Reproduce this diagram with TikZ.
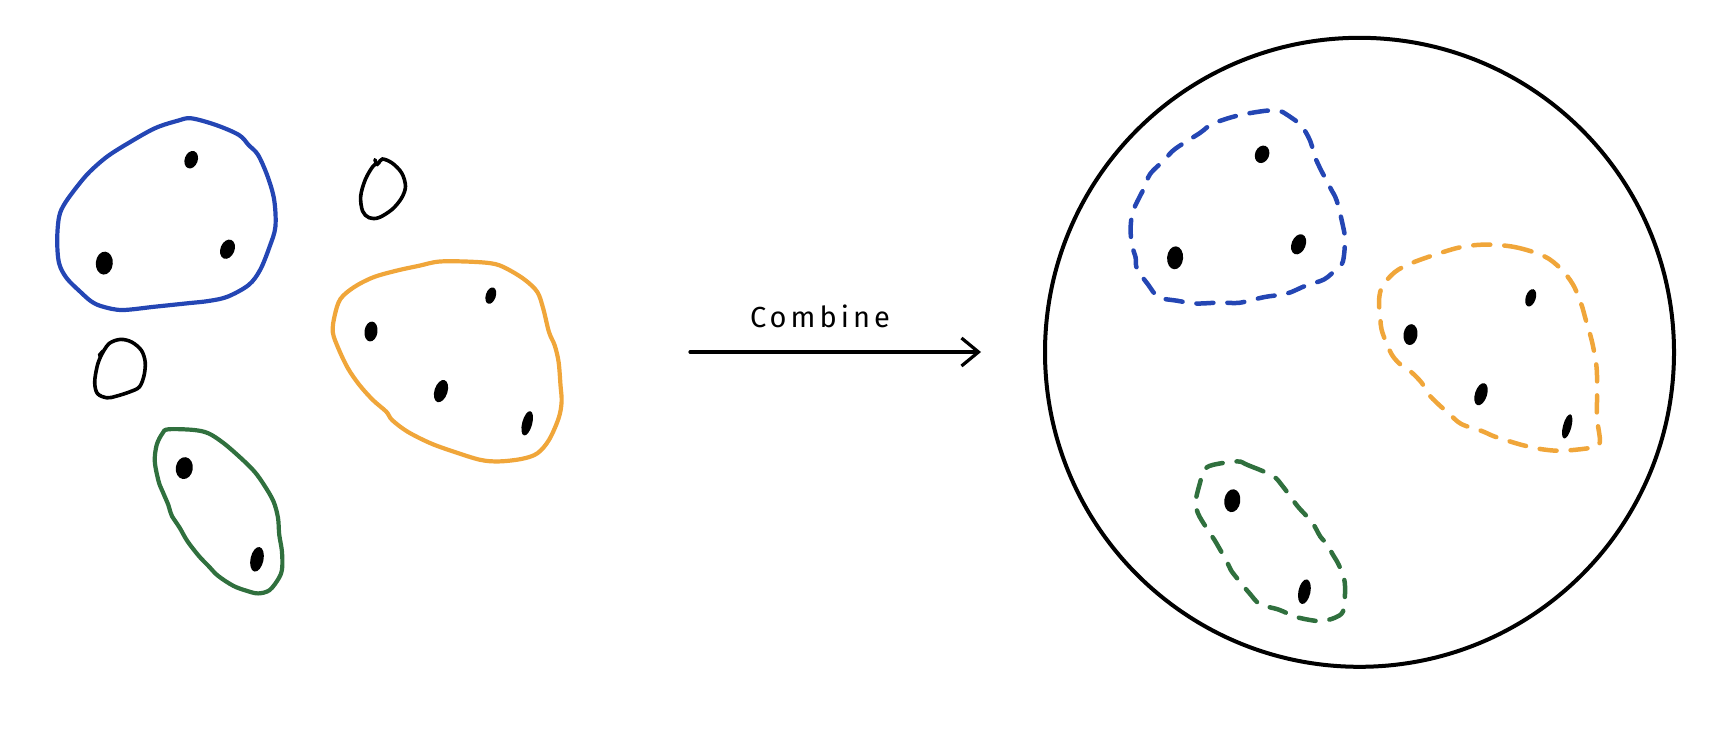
\documentclass[tikz,border=0pt]{standalone}
\usepackage{fontspec}
\newfontfamily\handfont[LetterSpace=14]{Fira Sans}
\usetikzlibrary{arrows.meta}
\definecolor{cblue}{RGB}{36,70,180}
\definecolor{corange}{RGB}{240,166,58}
\definecolor{cgreen}{RGB}{48,112,62}
\begin{document}
\begin{tikzpicture}[x=1pt,y=-1pt,
  blob/.style={line width=4.2pt,line join=round,line cap=round},
  dblob/.style={line width=4.5pt,line cap=round,dash pattern=on 17pt off 14pt},
  loopline/.style={line width=3.6pt,black,line cap=round},
  arr/.style={line width=3.2pt,line cap=round,-{Straight Barb[length=17pt,width=28pt,line width=3.2pt]}},
  pt/.style={fill=black}]
\useasboundingbox (0,0) rectangle (1710,740);

% ---------- left: blue group ----------
\draw[blob,cblue] plot[smooth cycle,tension=0.55] coordinates {
 (191.2,118.3) (216,125) (239,135) (248.6,145) (258.1,155) (267.7,176.7)
 (274.2,200) (275.4,226.7) (269.6,246.7) (260.1,270) (248.6,285) (227.5,296.7)
 (208.4,301) (187.3,303.3) (154.8,306.7) (122.3,310) (103.1,306.7) (91.7,301.7)
 (80.2,291.7) (66.8,278.3) (59.1,263.3) (57.2,240) (59.1,216.7) (64.9,203.3)
 (78.3,185) (89.8,171.7) (107,156.7) (128,143.3) (154.8,128.3) (177.8,120.7)};
\fill[pt,rotate around={-20:(191.2,159.7)}] (191.2,159.7) ellipse (6.5 and 9);
\fill[pt,rotate around={-5:(104.3,263.1)}] (104.3,263.1) ellipse (8.5 and 11.5);
\fill[pt,rotate around={-22:(227.5,249.2)}] (227.5,249.2) ellipse (7 and 10);

% ---------- left: orange group ----------
\draw[blob,corange] plot[smooth cycle,tension=0.55] coordinates {
 (439.9,261.5) (472.5,261.8) (495.4,264.1) (510.7,270.8) (526,280.7) (537.5,292.3)
 (543.3,308.9) (549,332.1) (554.7,345.4) (558.6,362) (560.5,385.2) (561.6,401.8)
 (558.6,418.3) (549,439.9) (537.5,453.2) (522.2,458.8) (499.2,461.4) (480.1,459.8)
 (453.3,451.5) (430.4,443.2) (407.4,431.6) (392.1,420) (386.3,411.7) (373,400.1)
 (359.6,385.2) (348.1,368.6) (338.5,348.7) (332.8,332.1) (334.7,315.5) (340.4,299)
 (353.8,287.3) (373,277.4) (395.9,270.8) (418.9,265.8)};
\fill[pt,rotate around={-18:(490.8,295.6)}] (490.8,295.6) ellipse (5 and 8.5);
\fill[pt,rotate around={-8:(371,331.5)}] (371,331.5) ellipse (6.5 and 10);
\fill[pt,rotate around={-18:(441,391.1)}] (441,391.1) ellipse (6.5 and 11.5);
\fill[pt,rotate around={-15:(527.2,423.3)}] (527.2,423.3) ellipse (5 and 12.5);

% ---------- left: green group ----------
\draw[blob,cgreen] plot[smooth cycle,tension=0.55] coordinates {
 (168.2,429.3) (193.1,429.9) (208.4,433.3) (223.7,443.2) (240.9,458.1) (254.3,471.4)
 (263.9,484.7) (273.4,501.2) (278,517.8) (279.2,534.4) (281.9,551) (282.2,567.6)
 (279.2,577.5) (269.6,590.1) (258.1,593.4) (246.7,590.8) (233.3,585.8) (218,575.8)
 (208.4,565.9) (198.8,555.9) (187.3,541) (179.7,527.8) (172,516.2) (170.1,511.2)
 (168.2,504.6) (162.5,491.3) (158.6,481.3) (154.8,461.4) (156.7,444.9) (162.5,433.3)};
\fill[pt,rotate around={-8:(184.3,468.1)}] (184.3,468.1) ellipse (8.5 and 11);
\fill[pt,rotate around={-12:(257,559.3)}] (257,559.3) ellipse (6.5 and 12.5);

% ---------- left: single small loops ----------
\draw[loopline] plot[smooth,tension=0.55] coordinates {
 (376.8,164.7) (378.7,163) (382.5,159) (392.1,163) (401.7,173) (405.5,186.2)
 (401.7,197.8) (392.1,209.4) (378.7,217.7) (369.1,217.7) (362.6,211.1)
 (360.7,196.2) (365.3,179.6) (373,166.3) (378.7,163)};
\draw[loopline] (374.9,159.7) -- (376.8,164.7);
\draw[loopline] plot[smooth,tension=0.55] coordinates {
 (101.2,355.3) (108.9,343.7) (120.4,339.4) (131.8,342.1) (141.4,350.4) (145.2,362)
 (144.1,375.2) (139.5,386.8) (129.9,391.8) (116.5,396.1) (107,397.8) (97.4,393.5)
 (94.7,381.9) (97.4,365.3) (101.2,355.3)};
\draw[loopline] (99.3,355.3) -- (103,351);

% ---------- arrow with label ----------
\coordinate (arrowStart) at (690,352);
\coordinate (arrowEnd) at (981,352);
\draw[arr] (arrowStart) -- (arrowEnd);
\node[inner sep=0pt,font=\handfont\fontsize{29}{34}\selectfont] (combine) at (820,316) {Combine};

% ---------- right: big circle ----------
\node[draw,circle,line width=4pt,minimum size=629pt,inner sep=0pt] (bigcircle) at (1359.5,352.3) {};

% blue dashed
\draw[dblob,cblue] plot[smooth cycle,tension=0.55] coordinates {
 (1278.7,111.4) (1266.3,110.7) (1237.3,115.7) (1212.4,123.9) (1200,132.9)
 (1175.1,148.9) (1164.7,159.6) (1150.2,173.9) (1144,188.2) (1133.6,209.6)
 (1130.7,225.7) (1131.6,243.6) (1135.7,257.8) (1136.9,268.6) (1148.1,284.6)
 (1158.5,297.1) (1177.1,300.7) (1195.8,303.5) (1220.7,302.5) (1239.3,302.8)
 (1264.2,297.1) (1287,293.5) (1305.6,285.7) (1324.3,279.3) (1336.7,268.6)
 (1342.9,261.4) (1345,240) (1342.9,225.7) (1336.7,200.7) (1330.5,188.2)
 (1320.2,168.6) (1316,159.6) (1309.8,140) (1301.5,125.7) (1295.3,120.4) (1282.8,112.1)};
\fill[pt,rotate around={-22:(1262.1,154.3)}] (1262.1,154.3) ellipse (7 and 9);
\fill[pt,rotate around={-5:(1175.1,257.8)}] (1175.1,257.8) ellipse (8 and 11.5);
\fill[pt,rotate around={-22:(1298.6,244.3)}] (1298.6,244.3) ellipse (7 and 10.5);

% orange dashed
\draw[dblob,corange] plot[smooth cycle,tension=0.55] coordinates {
 (1486,244.6) (1515,247.1) (1544,256.1) (1560.6,268.6) (1573,284.6) (1581.3,304.3)
 (1585.4,318.5) (1591.6,340) (1595.8,361.4) (1597,375.7) (1597,400.7) (1597,418.5)
 (1599.9,441.7) (1593.7,447.1) (1573,450) (1556.4,450.7) (1539.8,448.9) (1523.3,445.3)
 (1510.8,441.7) (1494.2,436.4) (1481.8,431) (1461.1,423.9) (1448.6,413.2) (1438.3,404.2)
 (1427.9,393.5) (1421.7,382.8) (1411.3,372.1) (1401,365) (1392.7,356) (1386.5,343.5)
 (1381.5,329.3) (1380.3,318.5) (1379,300.7) (1382.3,286.4) (1394.8,272.1) (1411.3,263.2)
 (1436.2,254.3) (1461.1,247.1)};
\fill[pt,rotate around={-18:(1530.7,297.8)}] (1530.7,297.8) ellipse (5 and 9);
\fill[pt,rotate around={-8:(1410.5,334.6)}] (1410.5,334.6) ellipse (7 and 10.5);
\fill[pt,rotate around={-18:(1481,394.2)}] (1481,394.2) ellipse (6 and 11.5);
\fill[pt,rotate around={-15:(1567.2,426.4)}] (1567.2,426.4) ellipse (4.2 and 12.5);

% green dashed
\draw[dblob,cgreen] plot[smooth cycle,tension=0.55] coordinates {
 (1237.3,461.4) (1247.6,465) (1272.5,475.7) (1282.8,486.4) (1297.4,506) (1311.9,522.1)
 (1320.2,536.4) (1326.4,543.5) (1332.6,554.2) (1338.8,564.9) (1344.2,579.2) (1345,593.5)
 (1343,611.4) (1334.7,617.8) (1322.2,621) (1311.9,620.3) (1295.3,616.7) (1278.7,609.6)
 (1260,604.2) (1249.7,593.5) (1239.3,581) (1231,570.3) (1226.9,561.4) (1220.7,550.7)
 (1214.5,540) (1206.2,527.5) (1197.9,513.2) (1195.8,500.7) (1200,482.8) (1204.1,470.3)
 (1212.4,465)};
\fill[pt,rotate around={-8:(1232.3,500.7)}] (1232.3,500.7) ellipse (8 and 11.5);
\fill[pt,rotate around={-12:(1304.4,591.7)}] (1304.4,591.7) ellipse (6 and 12.5);
\end{tikzpicture}
\end{document}
